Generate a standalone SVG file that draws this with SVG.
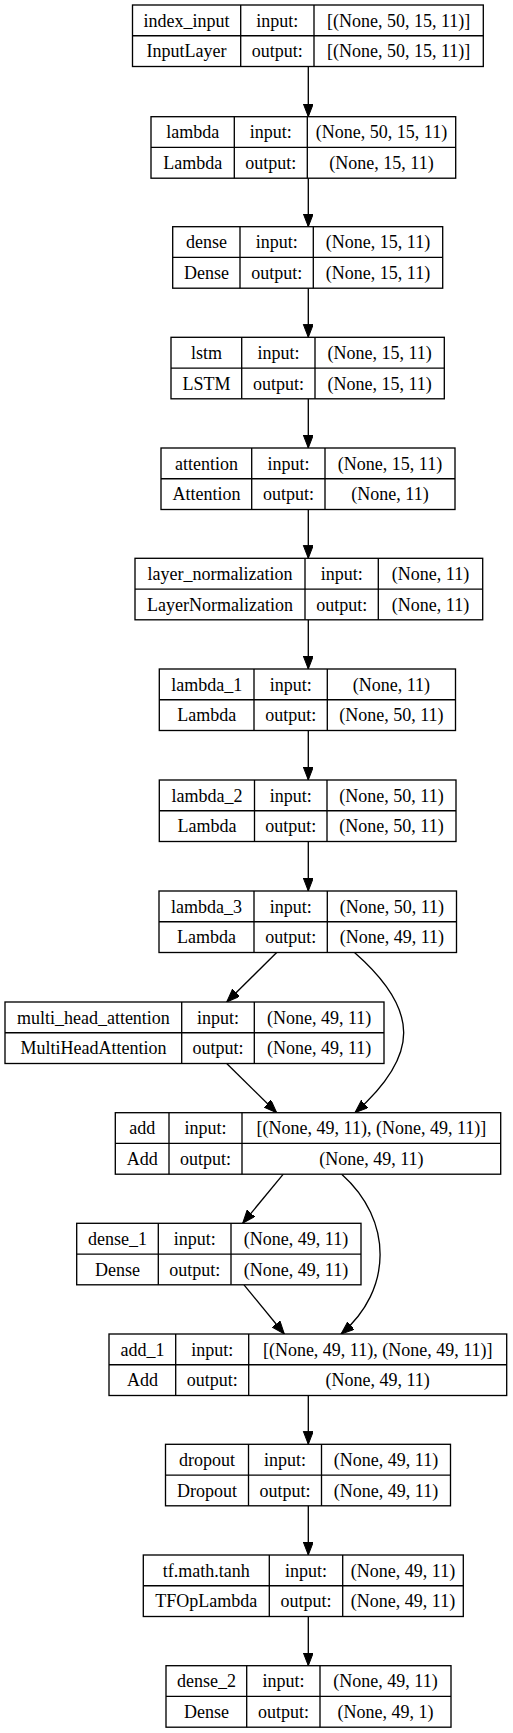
<svg xmlns="http://www.w3.org/2000/svg" width="513" height="1733" viewBox="0 0 513 1733">
<style>
.box{fill:#fff;stroke:#000;stroke-width:1.33}
.div{stroke:#000;stroke-width:1.33}
text{font-family:"Liberation Serif","Times New Roman",serif;font-size:18px;fill:#000;text-anchor:middle}
.edge{fill:none;stroke:#000;stroke-width:1.33}
</style>
<defs>
<marker id="arr" markerUnits="userSpaceOnUse" markerWidth="14" markerHeight="12" refX="13" refY="5" orient="auto">
<path d="M0,0 L13,5 L0,10 z" fill="#000" stroke="#000" stroke-width="1"/>
</marker>
</defs>
<rect width="513" height="1733" fill="#fff"/>
<g id="connectors">
<path class="edge" marker-end="url(#arr)" d="M308.3,66.5 L308.3,116.7"/>
<path class="edge" marker-end="url(#arr)" d="M308.3,178.2 L308.3,226.7"/>
<path class="edge" marker-end="url(#arr)" d="M308.3,288.2 L308.3,337.3"/>
<path class="edge" marker-end="url(#arr)" d="M308.3,398.8 L308.3,448"/>
<path class="edge" marker-end="url(#arr)" d="M308.3,509.5 L308.3,558.3"/>
<path class="edge" marker-end="url(#arr)" d="M308.3,619.8 L308.3,669"/>
<path class="edge" marker-end="url(#arr)" d="M308.3,730.5 L308.3,780"/>
<path class="edge" marker-end="url(#arr)" d="M308.3,841.5 L308.3,891"/>
<path class="edge" marker-end="url(#arr)" d="M276.7,952.5 L226.7,1002"/>
<path class="edge" marker-end="url(#arr)" d="M354.5,952.5 C420,1010 420,1055 355,1112.7"/>
<path class="edge" marker-end="url(#arr)" d="M226.7,1063.5 L276.7,1112.7"/>
<path class="edge" marker-end="url(#arr)" d="M283.3,1174.2 L242.7,1223.3"/>
<path class="edge" marker-end="url(#arr)" d="M341.7,1174.2 C393,1220 393,1290 341,1334"/>
<path class="edge" marker-end="url(#arr)" d="M244,1284.8 L284.3,1334"/>
<path class="edge" marker-end="url(#arr)" d="M308.3,1395.5 L308.3,1444.3"/>
<path class="edge" marker-end="url(#arr)" d="M308.3,1505.8 L308.3,1555"/>
<path class="edge" marker-end="url(#arr)" d="M308.3,1616.5 L308.3,1665.7"/>
</g>
<g id="index_input">
<rect class="box" x="132.5" y="5" width="350.8" height="61.5"/>
<line class="div" x1="132.5" y1="35.75" x2="483.3" y2="35.75"/>
<line class="div" x1="240.7" y1="5" x2="240.7" y2="66.5"/>
<line class="div" x1="314" y1="5" x2="314" y2="66.5"/>
<text x="186.6" y="26.5">index_input</text><text x="186.6" y="57.3">InputLayer</text>
<text x="277.3" y="26.5">input:</text><text x="277.3" y="57.3">output:</text>
<text x="398.7" y="26.5">[(None, 50, 15, 11)]</text><text x="398.7" y="57.3">[(None, 50, 15, 11)]</text>
</g>
<g id="lambda">
<rect class="box" x="151" y="116.7" width="304.7" height="61.5"/>
<line class="div" x1="151" y1="147.45" x2="455.7" y2="147.45"/>
<line class="div" x1="234.3" y1="116.7" x2="234.3" y2="178.2"/>
<line class="div" x1="307.3" y1="116.7" x2="307.3" y2="178.2"/>
<text x="192.7" y="138.2">lambda</text><text x="192.7" y="169">Lambda</text>
<text x="270.8" y="138.2">input:</text><text x="270.8" y="169">output:</text>
<text x="381.5" y="138.2">(None, 50, 15, 11)</text><text x="381.5" y="169">(None, 15, 11)</text>
</g>
<g id="dense">
<rect class="box" x="172.7" y="226.7" width="270" height="61.5"/>
<line class="div" x1="172.7" y1="257.45" x2="442.7" y2="257.45"/>
<line class="div" x1="240" y1="226.7" x2="240" y2="288.2"/>
<line class="div" x1="313.3" y1="226.7" x2="313.3" y2="288.2"/>
<text x="206.4" y="248.2">dense</text><text x="206.4" y="279">Dense</text>
<text x="276.7" y="248.2">input:</text><text x="276.7" y="279">output:</text>
<text x="378" y="248.2">(None, 15, 11)</text><text x="378" y="279">(None, 15, 11)</text>
</g>
<g id="lstm">
<rect class="box" x="171" y="337.3" width="273.3" height="61.5"/>
<line class="div" x1="171" y1="368.05" x2="444.3" y2="368.05"/>
<line class="div" x1="241.7" y1="337.3" x2="241.7" y2="398.8"/>
<line class="div" x1="315" y1="337.3" x2="315" y2="398.8"/>
<text x="206.4" y="358.8">lstm</text><text x="206.4" y="389.6">LSTM</text>
<text x="278.4" y="358.8">input:</text><text x="278.4" y="389.6">output:</text>
<text x="379.7" y="358.8">(None, 15, 11)</text><text x="379.7" y="389.6">(None, 15, 11)</text>
</g>
<g id="attention">
<rect class="box" x="161" y="448" width="294" height="61.5"/>
<line class="div" x1="161" y1="478.75" x2="455" y2="478.75"/>
<line class="div" x1="251.7" y1="448" x2="251.7" y2="509.5"/>
<line class="div" x1="325" y1="448" x2="325" y2="509.5"/>
<text x="206.4" y="469.5">attention</text><text x="206.4" y="500.3">Attention</text>
<text x="288.4" y="469.5">input:</text><text x="288.4" y="500.3">output:</text>
<text x="390" y="469.5">(None, 15, 11)</text><text x="390" y="500.3">(None, 11)</text>
</g>
<g id="layer_normalization">
<rect class="box" x="135" y="558.3" width="347.7" height="61.5"/>
<line class="div" x1="135" y1="589.05" x2="482.7" y2="589.05"/>
<line class="div" x1="305" y1="558.3" x2="305" y2="619.8"/>
<line class="div" x1="378.3" y1="558.3" x2="378.3" y2="619.8"/>
<text x="220" y="579.8">layer_normalization</text><text x="220" y="610.6">LayerNormalization</text>
<text x="341.7" y="579.8">input:</text><text x="341.7" y="610.6">output:</text>
<text x="430.5" y="579.8">(None, 11)</text><text x="430.5" y="610.6">(None, 11)</text>
</g>
<g id="lambda_1">
<rect class="box" x="159.3" y="669" width="296.2" height="61.5"/>
<line class="div" x1="159.3" y1="699.75" x2="455.5" y2="699.75"/>
<line class="div" x1="254" y1="669" x2="254" y2="730.5"/>
<line class="div" x1="327.3" y1="669" x2="327.3" y2="730.5"/>
<text x="206.7" y="690.5">lambda_1</text><text x="206.7" y="721.3">Lambda</text>
<text x="290.7" y="690.5">input:</text><text x="290.7" y="721.3">output:</text>
<text x="391.4" y="690.5">(None, 11)</text><text x="391.4" y="721.3">(None, 50, 11)</text>
</g>
<g id="lambda_2">
<rect class="box" x="159.3" y="780" width="296.7" height="61.5"/>
<line class="div" x1="159.3" y1="810.75" x2="456" y2="810.75"/>
<line class="div" x1="254.5" y1="780" x2="254.5" y2="841.5"/>
<line class="div" x1="327" y1="780" x2="327" y2="841.5"/>
<text x="206.9" y="801.5">lambda_2</text><text x="206.9" y="832.3">Lambda</text>
<text x="290.8" y="801.5">input:</text><text x="290.8" y="832.3">output:</text>
<text x="391.5" y="801.5">(None, 50, 11)</text><text x="391.5" y="832.3">(None, 50, 11)</text>
</g>
<g id="lambda_3">
<rect class="box" x="159" y="891" width="297.5" height="61.5"/>
<line class="div" x1="159" y1="921.75" x2="456.5" y2="921.75"/>
<line class="div" x1="254" y1="891" x2="254" y2="952.5"/>
<line class="div" x1="327.3" y1="891" x2="327.3" y2="952.5"/>
<text x="206.5" y="912.5">lambda_3</text><text x="206.5" y="943.3">Lambda</text>
<text x="290.7" y="912.5">input:</text><text x="290.7" y="943.3">output:</text>
<text x="391.9" y="912.5">(None, 50, 11)</text><text x="391.9" y="943.3">(None, 49, 11)</text>
</g>
<g id="multi_head_attention">
<rect class="box" x="5" y="1002" width="379" height="61.5"/>
<line class="div" x1="5" y1="1032.75" x2="384" y2="1032.75"/>
<line class="div" x1="181.7" y1="1002" x2="181.7" y2="1063.5"/>
<line class="div" x1="254.3" y1="1002" x2="254.3" y2="1063.5"/>
<text x="93.4" y="1023.5">multi_head_attention</text><text x="93.4" y="1054.3">MultiHeadAttention</text>
<text x="218" y="1023.5">input:</text><text x="218" y="1054.3">output:</text>
<text x="319.2" y="1023.5">(None, 49, 11)</text><text x="319.2" y="1054.3">(None, 49, 11)</text>
</g>
<g id="add">
<rect class="box" x="115.3" y="1112.7" width="385.4" height="61.5"/>
<line class="div" x1="115.3" y1="1143.45" x2="500.7" y2="1143.45"/>
<line class="div" x1="169" y1="1112.7" x2="169" y2="1174.2"/>
<line class="div" x1="242" y1="1112.7" x2="242" y2="1174.2"/>
<text x="142.2" y="1134.2">add</text><text x="142.2" y="1165">Add</text>
<text x="205.5" y="1134.2">input:</text><text x="205.5" y="1165">output:</text>
<text x="371.4" y="1134.2">[(None, 49, 11), (None, 49, 11)]</text><text x="371.4" y="1165">(None, 49, 11)</text>
</g>
<g id="dense_1">
<rect class="box" x="76.7" y="1223.3" width="284.3" height="61.5"/>
<line class="div" x1="76.7" y1="1254.05" x2="361" y2="1254.05"/>
<line class="div" x1="158.3" y1="1223.3" x2="158.3" y2="1284.8"/>
<line class="div" x1="231" y1="1223.3" x2="231" y2="1284.8"/>
<text x="117.5" y="1244.8">dense_1</text><text x="117.5" y="1275.6">Dense</text>
<text x="194.7" y="1244.8">input:</text><text x="194.7" y="1275.6">output:</text>
<text x="296" y="1244.8">(None, 49, 11)</text><text x="296" y="1275.6">(None, 49, 11)</text>
</g>
<g id="add_1">
<rect class="box" x="109" y="1334" width="397.7" height="61.5"/>
<line class="div" x1="109" y1="1364.75" x2="506.7" y2="1364.75"/>
<line class="div" x1="175.7" y1="1334" x2="175.7" y2="1395.5"/>
<line class="div" x1="248.7" y1="1334" x2="248.7" y2="1395.5"/>
<text x="142.4" y="1355.5">add_1</text><text x="142.4" y="1386.3">Add</text>
<text x="212.2" y="1355.5">input:</text><text x="212.2" y="1386.3">output:</text>
<text x="377.7" y="1355.5">[(None, 49, 11), (None, 49, 11)]</text><text x="377.7" y="1386.3">(None, 49, 11)</text>
</g>
<g id="dropout">
<rect class="box" x="165.5" y="1444.3" width="285" height="61.5"/>
<line class="div" x1="165.5" y1="1475.05" x2="450.5" y2="1475.05"/>
<line class="div" x1="248.5" y1="1444.3" x2="248.5" y2="1505.8"/>
<line class="div" x1="321.5" y1="1444.3" x2="321.5" y2="1505.8"/>
<text x="207" y="1465.8">dropout</text><text x="207" y="1496.6">Dropout</text>
<text x="285" y="1465.8">input:</text><text x="285" y="1496.6">output:</text>
<text x="386" y="1465.8">(None, 49, 11)</text><text x="386" y="1496.6">(None, 49, 11)</text>
</g>
<g id="tf_math_tanh">
<rect class="box" x="143.3" y="1555" width="320" height="61.5"/>
<line class="div" x1="143.3" y1="1585.75" x2="463.3" y2="1585.75"/>
<line class="div" x1="269.3" y1="1555" x2="269.3" y2="1616.5"/>
<line class="div" x1="342.7" y1="1555" x2="342.7" y2="1616.5"/>
<text x="206.3" y="1576.5">tf.math.tanh</text><text x="206.3" y="1607.3">TFOpLambda</text>
<text x="306" y="1576.5">input:</text><text x="306" y="1607.3">output:</text>
<text x="403" y="1576.5">(None, 49, 11)</text><text x="403" y="1607.3">(None, 49, 11)</text>
</g>
<g id="dense_2">
<rect class="box" x="166" y="1665.7" width="285" height="61.5"/>
<line class="div" x1="166" y1="1696.45" x2="451" y2="1696.45"/>
<line class="div" x1="246.7" y1="1665.7" x2="246.7" y2="1727.2"/>
<line class="div" x1="320" y1="1665.7" x2="320" y2="1727.2"/>
<text x="206.4" y="1687.2">dense_2</text><text x="206.4" y="1718">Dense</text>
<text x="283.4" y="1687.2">input:</text><text x="283.4" y="1718">output:</text>
<text x="385.5" y="1687.2">(None, 49, 11)</text><text x="385.5" y="1718">(None, 49, 1)</text>
</g>
</svg>
